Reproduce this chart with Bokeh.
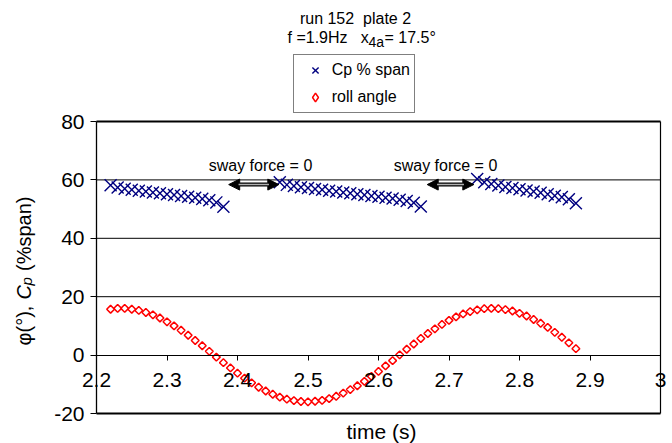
import numpy as np
from bokeh.plotting import figure
from bokeh.models import (Label, Legend, LegendItem, Arrow, NormalHead, FixedTicker,
                          NumeralTickFormatter, Range1d, LinearAxis)
from bokeh.embed import file_html
from bokeh.resources import INLINE

# ---------------- data ----------------
cp_t = [2.22, 2.23, 2.24, 2.25, 2.26, 2.27, 2.28, 2.29, 2.30, 2.31, 2.32, 2.33, 2.34, 2.35, 2.36, 2.37, 2.38,
        2.46, 2.47, 2.48, 2.49, 2.50, 2.51, 2.52, 2.53, 2.54, 2.55, 2.56, 2.57, 2.58, 2.59, 2.60, 2.61, 2.62,
        2.63, 2.64, 2.65, 2.66,
        2.74, 2.75, 2.76, 2.77, 2.78, 2.79, 2.80, 2.81, 2.82, 2.83, 2.84, 2.85, 2.86, 2.87, 2.88]
cp_span = [58.2, 57.4, 57.0, 56.6, 56.3, 56.0, 55.7, 55.4, 55.1, 54.8, 54.5, 54.2, 53.9, 53.5, 53.0, 52.3, 50.8,
           59.2, 58.3, 57.9, 57.5, 57.2, 56.9, 56.6, 56.3, 56.0, 55.7, 55.4, 55.1, 54.8, 54.5, 54.2, 53.9, 53.6,
           53.2, 52.8, 52.2, 50.9,
           60.3, 59.2, 58.6, 58.1, 57.6, 57.2, 56.8, 56.4, 56.0, 55.6, 55.1, 54.6, 54.1, 53.4, 52.0]

roll_t = [2.22, 2.23, 2.24, 2.25, 2.26, 2.27, 2.28, 2.29, 2.30, 2.31,
          2.32, 2.33, 2.34, 2.35, 2.36, 2.37, 2.38, 2.39, 2.40, 2.41,
          2.42, 2.43, 2.44, 2.45, 2.46, 2.47, 2.48, 2.49, 2.50, 2.51,
          2.52, 2.53, 2.54, 2.55, 2.56, 2.57, 2.58, 2.59, 2.60, 2.61,
          2.62, 2.63, 2.64, 2.65, 2.66, 2.67, 2.68, 2.69, 2.70, 2.71,
          2.72, 2.73, 2.74, 2.75, 2.76, 2.77, 2.78, 2.79, 2.80, 2.81,
          2.82, 2.83, 2.84, 2.85, 2.86, 2.87, 2.88]
roll_angle = [15.7, 16.0, 16.0, 15.7, 15.3, 14.6, 13.8, 12.7, 11.4, 10.0,
              8.5, 6.8, 5.0, 3.2, 1.3, -0.7, -2.6, -4.4, -6.2, -7.9,
              -9.5, -11.0, -12.3, -13.4, -14.4, -15.1, -15.6, -15.9, -16.0, -15.8,
              -15.5, -14.9, -14.1, -13.0, -11.8, -10.5, -9.0, -7.3, -5.6, -3.7,
              -1.9, 0.1, 2.0, 3.8, 5.7, 7.4, 9.0, 10.5, 11.9, 13.1,
              14.1, 14.9, 15.5, 15.9, 16.0, 15.9, 15.6, 15.1, 14.3, 13.4,
              12.2, 10.9, 9.5, 7.8, 6.1, 4.2, 2.2]

x_ticks = [2.2, 2.3, 2.4, 2.5, 2.6, 2.7, 2.8, 2.9, 3.0]
y_ticks = [-20, 0, 20, 40, 60, 80]
grid_values = [20, 40, 60]

# sway-force = 0 intervals (arrow extents, in time)
sway_intervals = [(2.3875, 2.4586), (2.6691, 2.7352)]
sway_level = 58.4

FONT = "Liberation Sans"

# ---------------- figure (frame = whole canvas; plot box drawn in data space) ----------------
X0, X1, Y0, Y1 = 2.2, 3.0, -20, 80
L, R, T, B = 96, 12, 121, 30          # pixel margins of the plot box
W, H = 672, 443
sx = (W - L - R) / (X1 - X0)          # px per data unit
sy = (H - T - B) / (Y1 - Y0)

p = figure(width=W, height=H, output_backend="svg", toolbar_location=None,
           x_range=Range1d(X0 - L / sx, X1 + R / sx), y_range=Range1d(Y0 - B / sy, Y1 + T / sy),
           min_border=0, min_border_left=0, min_border_right=0, min_border_top=0, min_border_bottom=0,
           x_axis_type=None, y_axis_type=None)
p.background_fill_color = "white"
p.border_fill_color = "white"
p.outline_line_color = None
p.grid.visible = False


def dx(px):
    return X0 + (px - L) / sx


def dy(py):
    return Y0 + (H - B - py) / sy


# gridlines + plot box
p.segment(x0=X0, x1=X1, y0=grid_values, y1=grid_values, line_color="black", line_width=1)
p.segment(x0=[X0, X0], x1=[X1, X1], y0=[Y0, Y1], y1=[Y0, Y1], line_color="black", line_width=2)
p.segment(x0=X1, x1=X1, y0=Y0, y1=Y1, line_color="black", line_width=1.2)

# axes
xa = LinearAxis(fixed_location=0, bounds=(X0, X1), ticker=FixedTicker(ticks=x_ticks),
                formatter=NumeralTickFormatter(format="0.[0]"))
xa.major_tick_in = 0
xa.major_tick_out = 5
xa.minor_tick_line_color = None
xa.axis_line_color = "black"
xa.major_tick_line_color = "black"
xa.major_label_text_font = FONT
xa.major_label_text_font_size = "21px"
xa.major_label_text_color = "black"
xa.major_label_standoff = 13
p.add_layout(xa, "below")

ya = LinearAxis(fixed_location=X0, bounds=(Y0, Y1), ticker=FixedTicker(ticks=y_ticks),
                formatter=NumeralTickFormatter(format="0"))
ya.major_tick_in = 0
ya.major_tick_out = 6
ya.minor_tick_line_color = None
ya.axis_line_color = "black"
ya.axis_line_width = 1.3
ya.major_tick_line_color = "black"
ya.major_label_text_font = FONT
ya.major_label_text_font_size = "21px"
ya.major_label_text_color = "black"
ya.major_label_standoff = 6
p.add_layout(ya, "left")

# ---------------- glyphs ----------------
r_cp = p.scatter(cp_t, cp_span, marker="x", size=17, line_color="#000080", line_width=1.4)
r_roll = p.scatter(roll_t, roll_angle, marker="square", angle=np.pi / 4, size=5.5,
                   line_color="#ff0000", fill_alpha=0, line_width=1.5)
# legend symbol for the roll series (diamond drawn upright in the legend)
r_roll_key = p.scatter([np.nan], [np.nan], marker="diamond", size=8,
                       line_color="#ff0000", fill_alpha=0, line_width=1.5)

# arrows
for (a, b) in sway_intervals:
    p.add_layout(Arrow(x_start=a, y_start=sway_level, x_end=b, y_end=sway_level,
                       start=NormalHead(size=11, fill_color="black", line_color="black"),
                       end=NormalHead(size=11, fill_color="black", line_color="black"),
                       line_color="black", line_width=4))
    p.add_layout(Arrow(x_start=a + 0.014, y_start=sway_level, x_end=b - 0.014, y_end=sway_level,
                       start=None, end=None, line_color="#b0b0b0", line_width=1.5))

for cx in (260, 445):
    p.add_layout(Label(x=dx(cx), y=dy(165), text="sway force = 0", text_align="center",
                       text_baseline="alphabetic", text_font=FONT, text_font_size="16px",
                       text_color="black"))

# ---------------- titles ----------------
p.add_layout(Label(x=dx(355), y=dy(18), text="run 152\u00a0 plate 2", text_align="center",
                   text_baseline="middle", text_font=FONT, text_font_size="16px", text_color="black"))
p.add_layout(Label(x=dx(287), y=dy(37), text="f =1.9Hz\u00a0\u00a0 x", text_align="left",
                   text_baseline="middle", text_font=FONT, text_font_size="16px", text_color="black"))
p.add_layout(Label(x=dx(368), y=dy(41), text="4a", text_align="left",
                   text_baseline="middle", text_font=FONT, text_font_size="14px", text_color="black"))
p.add_layout(Label(x=dx(384), y=dy(37), text="= 17.5\u00b0", text_align="left",
                   text_baseline="middle", text_font=FONT, text_font_size="16px", text_color="black"))

p.add_layout(Label(x=dx(381), y=dy(431), text="time (s)", text_align="center",
                   text_baseline="middle", text_font=FONT, text_font_size="21px", text_color="black"))

# y-axis title in pieces (rotated)
ycx = 23
pieces = [("\u03c6(\u00b0), ", 345, "normal", "20px", 0),
          ("C", 299, "italic", "20px", 0),
          ("p", 285, "italic", "15px", 3),
          ("\u00a0(%span)", 276, "normal", "20px", 0)]
for txt, py, style, size, off in pieces:
    p.add_layout(Label(x=dx(ycx + off), y=dy(py), text=txt, angle=np.pi / 2, text_align="left",
                       text_baseline="middle", text_font=FONT, text_font_style=style,
                       text_font_size=size, text_color="black"))

# ---------------- legend ----------------
legend = Legend(items=[LegendItem(label="Cp % span", renderers=[r_cp]),
                       LegendItem(label="roll angle", renderers=[r_roll_key])],
                location=(292.7, 443 - 113), orientation="vertical", padding=4, spacing=5,
                glyph_width=34, glyph_height=22, label_height=22, label_standoff=0, margin=0,
                border_line_color="black", border_line_width=1,
                background_fill_color="white", background_fill_alpha=1,
                label_text_font=FONT, label_text_font_size="16px", label_text_color="black")
p.add_layout(legend, "center")

open("out.html", "w").write(file_html(p, INLINE))
